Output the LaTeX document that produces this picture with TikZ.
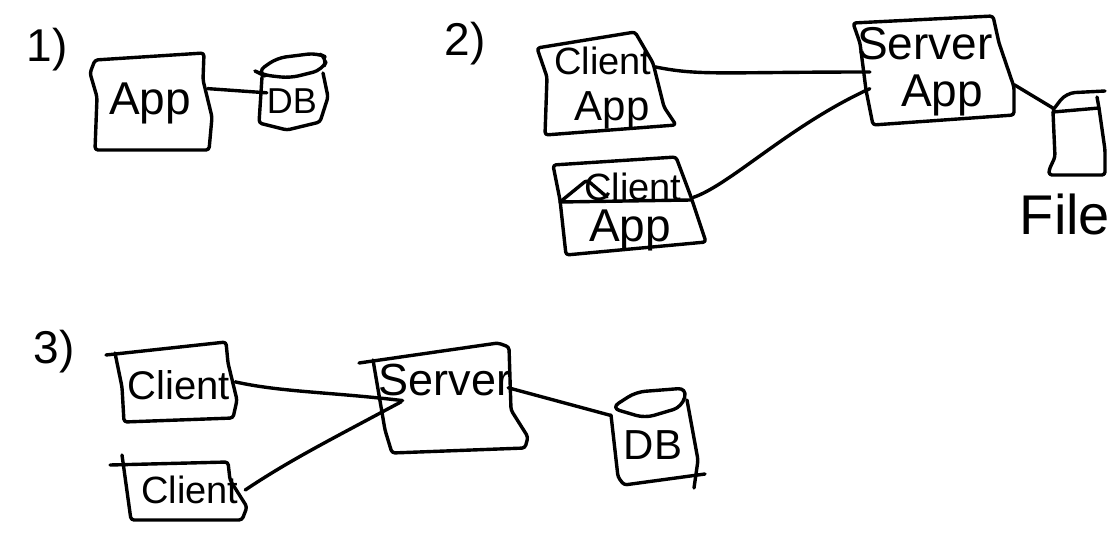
\documentclass[tikz,border=0pt]{standalone}
\usepackage{fontspec}
\setmainfont{Liberation Sans}
\newcommand{\fsz}[1]{\fontsize{#1}{#1}\selectfont}
\tikzset{
  x=1pt,y=-1pt,
  sketch/.style={draw=black,line width=3.4pt,rounded corners=3pt,line join=round,line cap=round},
  lid/.style={sketch,rounded corners=9pt},
  conn/.style={draw=black,line width=3.4pt,line cap=round},
  lbl/.style={inner sep=0pt,align=center,text=black,minimum width=#1},
  lbl/.default=0pt
}
\begin{document}
\begin{tikzpicture}
\useasboundingbox (0,0) rectangle (1119,535);
% panel 1
\node[lbl] (n1) at (47,50) {\fsz{46}1)};
\node[lbl=115pt,minimum height=90pt] (app) at (150,103) {\fsz{46}App};
\node[lbl=50pt,minimum height=60pt] (dba) at (292,101) {\makebox[0pt]{\fsz{36}DB}};
\draw[sketch] (95,60) -- (204,53) -- (203,80) -- (212,117) -- (209,150) -- (95,150) -- (97,97) -- (90,73) -- cycle;
\draw[lid] (257,72) -- (277,58) -- (317,53) -- (328,58) -- (322,70) -- (290,78) -- (263,75) -- cycle;
\draw[sketch] (262,77) -- (259,123) -- (287,130) -- (320,122) -- (328,97) -- (323,73);
\draw[conn] (app.14) -- (dba.162);
% panel 2
\node[lbl] (n2) at (465,44) {\fsz{46}2)};
\node[lbl=104pt,minimum height=88pt] (ca) at (603,88) {\makebox[0pt]{\fsz{38}Client}\\[15pt]\makebox[0pt]{\kern 18pt\fsz{42}App}};
\node[lbl=126pt,minimum height=86pt] (cb) at (630,212) {\makebox[0pt]{\kern 6pt\fsz{38}Client}\\[8pt]\makebox[0pt]{\fsz{46}App}};
\node[lbl=144pt,minimum height=90pt] (sa) at (942,72) {\makebox[0pt]{\fsz{46}Server\kern 34pt}\\[14pt]\makebox[0pt]{\fsz{46}App}};
\node[lbl=50pt,minimum height=80pt] (file) at (1078,135) {};
\node[lbl] (filetext) at (1065,214) {\fsz{56}File};
\draw[sketch] (537,48) -- (635,32) -- (653,63) -- (664,107) -- (676,125) -- (545,135) -- (547,77) -- cycle;
\draw[sketch] (553,165) -- (676,157) -- (691,197) -- (706,242) -- (566,255) -- (560,200) -- cycle;
\draw[sketch] (560,202) -- (587,180) -- (607,197);
\draw[sketch] (560,202) -- (691,200);
\draw[sketch] (853,23) -- (993,16) -- (999,43) -- (1014,87) -- (1014,115) -- (873,125) -- (866,90) -- (860,43) -- cycle;
\draw[lid] (1053,110) -- (1066,93) -- (1105,91);
\draw[sketch] (1053,112) -- (1099,108);
\draw[sketch] (1097,97) -- (1099,108) -- (1105,150) -- (1105,175) -- (1049,175) -- (1049,170) -- (1055,157) -- (1053,112);
\draw[conn] (ca.22) .. controls (700,76) and (720,72) .. (sa.180);
\draw[conn] (cb.13) .. controls (730,185) and (790,125) .. (sa.193);
\draw[conn] (sa.-10) -- (file.133);
% panel 3
\node[lbl] (n3) at (54,352) {\fsz{46}3)};
\node[lbl=120pt,minimum height=60pt] (cc) at (175,385) {\makebox[0pt]{\kern 8pt\fsz{40}Client}};
\node[lbl=118pt,minimum height=50pt] (cd) at (186,490) {\makebox[0pt]{\kern 8pt\fsz{38}Client}};
\node[lbl=126pt,minimum height=70pt] (sb) at (445,380) {\makebox[0pt]{\fsz{45}Server}};
\node[lbl=84pt,minimum height=60pt] (dbb) at (653,445) {\makebox[0pt]{\fsz{42}DB}};
\draw[sketch] (106,355) -- (226,342) -- (228,363) -- (237,400) -- (233,418) -- (124,422) -- (122,387) -- (115,353);
\draw[sketch] (110,465) -- (228,462) -- (230,480) -- (247,507) -- (242,520) -- (131,520) -- (122,455);
\draw[sketch] (359,363) -- (498,343) -- (509,347) -- (511,410) -- (528,437) -- (525,448) -- (392,453) -- (385,430) -- (373,360);
\draw[lid] (611,408) -- (636,392) -- (687,388) -- (682,407) -- (645,418) -- cycle;
\draw[sketch] (611,415) -- (618,477) -- (624,485) -- (705,474);
\draw[sketch] (687,400) -- (698,460) -- (694,488);
\draw[conn,shorten >=-21pt] (cc.3) .. controls (280,392) and (330,392) .. (sb.196);
\draw[conn,shorten >=-22pt] (cd.0) .. controls (290,460) and (330,440) .. (sb.207);
\draw[conn] (sb.-7) -- (dbb.145);
\end{tikzpicture}
\end{document}
